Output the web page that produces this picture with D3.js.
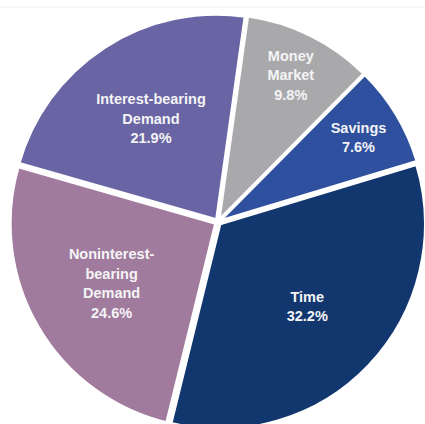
<!DOCTYPE html>
<html>
<head>
<meta charset="utf-8">
<script src="https://cdn.jsdelivr.net/npm/d3@7/dist/d3.min.js"></script>
<style>
  html, body { margin: 0; padding: 0; background: #ffffff; }
  svg { display: block; }
  .slice-label { font-family: "Liberation Sans", Arial, sans-serif; font-weight: bold; font-size: 14.5px; fill: #f4f4f6; }
</style>
</head>
<body>
<svg id="chart" width="425" height="424"></svg>
<script>
// Deposit mix by category, percent of total deposits
const categories = ["Money Market", "Savings", "Time", "Noninterest-bearing Demand", "Interest-bearing Demand"];
const labelLines = [["Money", "Market"], ["Savings"], ["Time"], ["Noninterest-", "bearing", "Demand"], ["Interest-bearing", "Demand"]];
const shares = [9.8, 7.6, 32.2, 24.6, 21.9];
const sliceColors = ["#a9a9ac", "#2f509e", "#12376f", "#a07b9d", "#6964a3"];

const width = 425, height = 424;
const cx = 218, cy = 222, radius = 205, explode = 3;

const svg = d3.select("#chart");

// faint frame line across the top
svg.append("line")
  .attr("x1", 0).attr("x2", width).attr("y1", 7).attr("y2", 7)
  .attr("stroke", "#f1f1f1").attr("stroke-width", 1);

const color = d3.scaleOrdinal().domain(categories).range(sliceColors);

const startDeg = 8;
const pie = d3.pie()
  .sort(null)
  .value(i => shares[i])
  .startAngle(startDeg * Math.PI / 180)
  .endAngle((startDeg + 360) * Math.PI / 180);

const arcs = pie(d3.range(categories.length));
const arc = d3.arc().innerRadius(0).outerRadius(radius);

const g = svg.append("g").attr("transform", `translate(${cx},${cy})`);

const mid = d => (d.startAngle + d.endAngle) / 2;
const offset = (d, r) => [Math.sin(mid(d)) * r, -Math.cos(mid(d)) * r];

g.selectAll("path.slice")
  .data(arcs)
  .join("path")
  .attr("class", "slice")
  .attr("transform", d => `translate(${offset(d, explode)})`)
  .attr("d", arc)
  .attr("fill", d => color(categories[d.data]))
  .attr("stroke", "#ffffff")
  .attr("stroke-width", 2.5)
  .attr("stroke-linejoin", "round");

// labels: narrow slices carry their text farther out
const lineH = 19.5;
const labels = g.selectAll("text.slice-label")
  .data(arcs)
  .join("text")
  .attr("class", "slice-label")
  .attr("text-anchor", "middle")
  .attr("transform", d => {
    const r = shares[d.data] < 15 ? radius * 0.8 : radius * 0.6;
    const [x, y] = offset(d, r);
    return `translate(${x},${y})`;
  });

labels.each(function (d) {
  const lines = labelLines[d.data].concat([d3.format(".1f")(shares[d.data]) + "%"]);
  const top = -(lines.length - 1) * lineH / 2 + 5;
  d3.select(this).selectAll("tspan")
    .data(lines)
    .join("tspan")
    .attr("x", 0)
    .attr("y", (t, i) => top + i * lineH)
    .text(t => t);
});
</script>
</body>
</html>
